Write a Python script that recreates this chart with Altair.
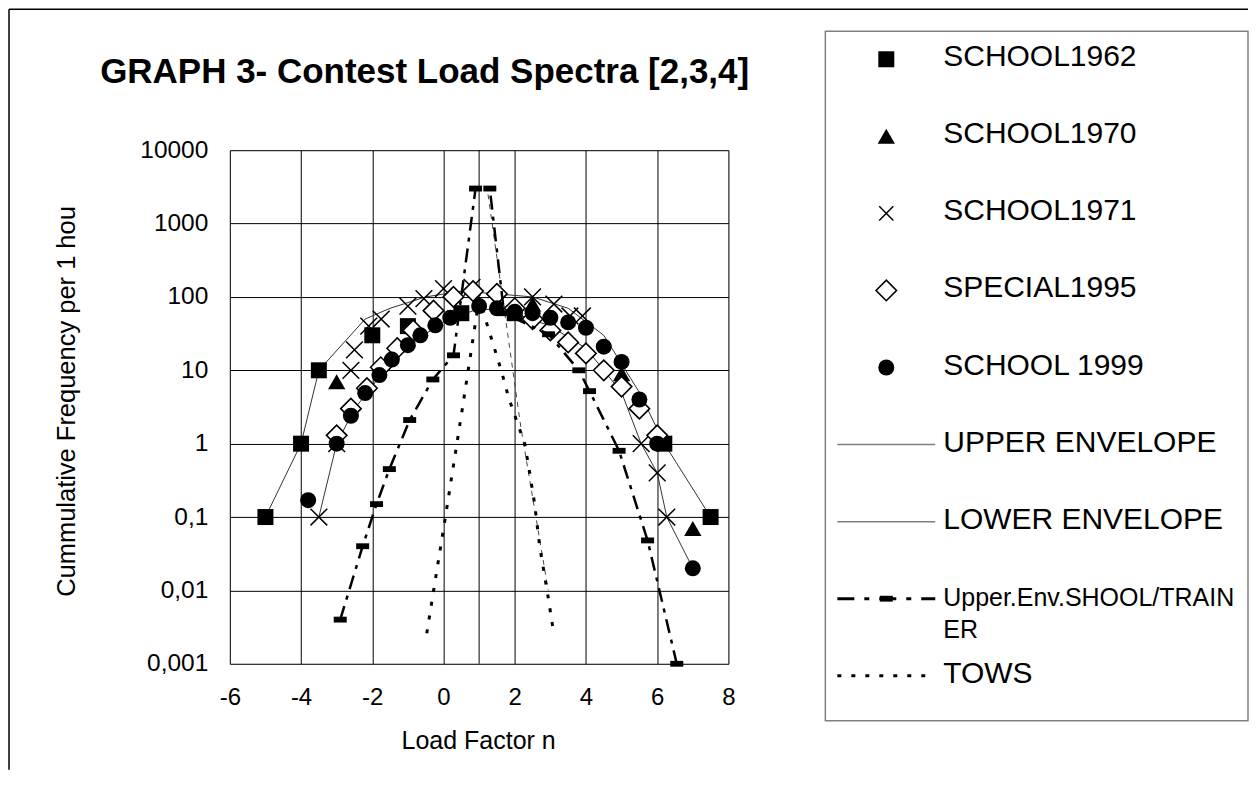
import altair as alt
import pandas as pd

FONT = "Liberation Sans"

TITLE = "GRAPH 3- Contest Load Spectra [2,3,4]"
X_TITLE = "Load Factor n"
Y_TITLE = "Cummulative Frequency per 1 hou"
X_TICKS = [-6, -4, -2, 0, 2, 4, 6, 8]
Y_TICKS = [0.001, 0.01, 0.1, 1, 10, 100, 1000, 10000]

# ---- series (load factor n, cumulative frequency per 1 hour) ----
s1962_n = [-5, -4, -3.5, -2, -1, 0.5, 2, 6.2, 7.5]
s1962_f = [0.1, 1, 10, 30, 40, 60, 60, 1, 0.1]

s1970_n = [-3, 2.5, 5, 7]
s1970_f = [7, 80, 9, 0.07]

s1971_n = [-3.5, -3, -2.6, -2.5, -2.1, -1.75, -1, -0.55, 0, 0.8, 2.5, 3.1, 3.55, 3.9, 5.55, 6, 6.27]
s1971_f = [0.1, 1, 10, 19, 40, 50, 75, 95, 130, 135, 100, 80, 55, 55, 1, 0.4, 0.1]

s1995_n = [-3, -2.6, -2.15, -1.76, -1.3, -0.85, -0.28, 0.28, 0.83, 1.5, 2, 2.5, 3, 3.5, 4, 4.5, 5, 5.5, 6]
s1995_f = [1.3, 3, 5.7, 11, 20, 35, 65, 100, 120, 110, 70, 50, 35, 24, 17, 10, 6, 3, 1.3]

s1999_n = [-3.8, -3, -2.6, -2.2, -1.8, -1.45, -1.0, -0.65, -0.23, 0.19, 1.0, 1.5, 2, 2.5, 3, 3.5, 4, 4.5, 5, 5.5, 6, 7]
s1999_f = [0.17, 1, 2.4, 4.9, 8.6, 14, 22, 30, 41, 52, 75, 70, 63, 60, 52, 45, 38, 21, 13, 4, 1, 0.02]

upper_n = [-5, -4, -3.5, -2.2, -1.5, -0.5, 0.5, 1.5, 2.5, 3.5, 4.5, 5.5, 6.2, 7.5]
upper_f = [0.1, 1, 10, 50, 70, 100, 120, 110, 100, 70, 30, 5, 1, 0.1]

lower_n = [-3.5, -3, -2.5, -2, -1.5, -1, 0, 1, 2, 3, 4, 5, 5.55, 6, 6.27, 7]
lower_f = [0.1, 1, 3, 6, 14, 22, 45, 70, 60, 40, 20, 5, 1, 0.4, 0.1, 0.02]

trainer_n = [-2.9, -2.27, -1.88, -1.52, -0.95, -0.3, 0.28, 0.9, 1.3, 1.7, 2.95, 3.8, 4.1, 4.93, 5.73, 6.55]
trainer_f = [0.004, 0.04, 0.15, 0.45, 2.1, 7.5, 16, 3000, 3000, 60, 31, 10, 5.2, 0.8, 0.048, 0.001]

# thin dashed descent drawn from the peak (unlabelled in the legend)
thin_n = [1.25, 2.17, 2.94]
thin_f = [2500, 1.7, 0.01]

tows_n = [-0.47, 0.03, 0.52, 1.0, 1.62, 1.83, 2.28, 2.42, 2.56, 2.7, 2.94, 3.08]
tows_f = [0.0026, 0.085, 2.8, 95, 10, 4.2, 1, 0.4, 0.15, 0.04, 0.008, 0.0029]

LEGEND_LABELS = ["SCHOOL1962", "SCHOOL1970", "SCHOOL1971", "SPECIAL1995", "SCHOOL 1999",
                 "UPPER ENVELOPE", "LOWER ENVELOPE", "Upper.Env.SHOOL/TRAIN\nER", "TOWS"]

X_SHAPE = "M-1,-1L1,1M-1,1L1,-1"
BAR_SHAPE = "M-1,-0.45L1,-0.45L1,0.45L-1,0.45Z"


def df(ns, fs):
    return pd.DataFrame({"n": ns, "f": fs, "i": list(range(len(ns)))})


xscale = alt.Scale(domain=[-6, 8], nice=False, zero=False)
yscale = alt.Scale(type="log", domain=[0.001, 10000], nice=False)

x_axis = alt.Axis(values=X_TICKS, grid=True, gridColor="black", gridWidth=1, gridOpacity=1,
                  ticks=False, tickSize=0, domain=False, labelFont=FONT, labelFontSize=24,
                  labelColor="black", labelPadding=22, labelFlush=False, labelOverlap=False,
                  labelExpr="'' + datum.value",
                  title=X_TITLE, titleFont=FONT, titleFontSize=25, titleFontWeight="normal",
                  titleColor="black", titleX=248.5, titleY=85, titleAlign="center",
                  titleBaseline="alphabetic")
y_axis = alt.Axis(values=Y_TICKS, grid=True, gridColor="black", gridWidth=1, gridOpacity=1,
                  ticks=False, tickSize=0, domain=False, labelFont=FONT, labelFontSize=24.5,
                  labelColor="black", labelPadding=22, labelFlush=False, labelOverlap=False,
                  labelExpr="replace('' + datum.value, '.', ',')",
                  title=Y_TITLE, titleFont=FONT, titleFontSize=25.5, titleFontWeight="normal",
                  titleColor="black", titleAngle=270, titleX=-163, titleY=251,
                  titleAlign="center", titleBaseline="middle")


def xy(chart):
    return chart.encode(
        x=alt.X("n:Q", scale=xscale, axis=x_axis),
        y=alt.Y("f:Q", scale=yscale, axis=y_axis),
        order="i:Q",
    )


axis_line = alt.Chart(pd.DataFrame({"n": [1]})).mark_rule(color="black", strokeWidth=1).encode(
    x=alt.X("n:Q", scale=xscale, axis=x_axis))

upper = xy(alt.Chart(df(upper_n, upper_f)).mark_line(color="#333333", strokeWidth=1))
lower = xy(alt.Chart(df(lower_n, lower_f)).mark_line(color="#333333", strokeWidth=1))

p1962 = xy(alt.Chart(df(s1962_n, s1962_f)).mark_point(shape="square", filled=True, color="black", size=256, opacity=1))
p1970 = xy(alt.Chart(df(s1970_n, s1970_f)).mark_point(shape="triangle-up", filled=True, color="black", size=300, opacity=1))
p1971 = xy(alt.Chart(df(s1971_n, s1971_f)).mark_point(shape=X_SHAPE, filled=False, color="black", strokeWidth=1.5, size=280, opacity=1))
p1995 = xy(alt.Chart(df(s1995_n, s1995_f)).mark_point(shape="diamond", filled=True, fill="white", stroke="black", strokeWidth=1.6, size=420, opacity=1))
p1999 = xy(alt.Chart(df(s1999_n, s1999_f)).mark_point(shape="circle", filled=True, color="black", size=256, opacity=1))

thin = xy(alt.Chart(df(thin_n, thin_f)).mark_line(color="#444444", strokeWidth=1, strokeDash=[5, 5]))
trainer_line = xy(alt.Chart(df(trainer_n, trainer_f)).mark_line(color="black", strokeWidth=2.5, strokeDash=[14, 7, 4, 7]))
trainer_pts = xy(alt.Chart(df(trainer_n, trainer_f)).mark_point(shape=BAR_SHAPE, filled=True, color="black", size=169, opacity=1))
tows = xy(alt.Chart(df(tows_n, tows_f)).mark_line(color="black", strokeWidth=3, strokeDash=[4, 10]))

main = alt.layer(upper, lower, axis_line, p1962, p1970, p1971, p1995, p1999,
                 thin, trainer_line, trainer_pts, tows)

# ---- legend, outer frame and title ----
one = pd.DataFrame({"k": [0]})
leg = pd.DataFrame({"row": list(range(len(LEGEND_LABELS))), "label": LEGEND_LABELS})
ly = alt.Y("row:Q", scale=alt.Scale(domain=[0, 8], range=[-91, 526]), axis=None)

frame_top = alt.Chart(one).mark_rule(color="black", strokeWidth=1.5).encode(
    x=alt.value(-221), x2=alt.value(1019), y=alt.value(-141))
frame_left = alt.Chart(one).mark_rule(color="black", strokeWidth=1.5).encode(
    x=alt.value(-221), y=alt.value(-141), y2=alt.value(620))
legend_box = alt.Chart(one).mark_rect(fillOpacity=0, stroke="#808080", strokeWidth=1.5).encode(
    x=alt.value(596), x2=alt.value(1019), y=alt.value(-119), y2=alt.value(571))
title = alt.Chart(pd.DataFrame({"t": [TITLE]})).mark_text(
    font=FONT, fontSize=35, fontWeight="bold", align="center", baseline="alphabetic", color="black"
).encode(text="t:N", x=alt.value(195), y=alt.value(-67))


def leg_sym(row, **kw):
    return alt.Chart(leg).transform_filter(alt.datum.row == row).mark_point(opacity=1, **kw).encode(
        x=alt.value(657), y=ly)


def leg_line(row, **kw):
    return alt.Chart(leg).transform_filter(alt.datum.row == row).mark_rule(**kw).encode(
        x=alt.value(608), x2=alt.value(706), y=ly)


legend_layers = [
    leg_sym(0, shape="square", filled=True, color="black", size=256),
    leg_sym(1, shape="triangle-up", filled=True, color="black", size=300),
    leg_sym(2, shape=X_SHAPE, filled=False, color="black", strokeWidth=1.5, size=200),
    leg_sym(3, shape="diamond", filled=True, fill="white", stroke="black", strokeWidth=1.6, size=420),
    leg_sym(4, shape="circle", filled=True, color="black", size=256),
    leg_line(5, color="#808080", strokeWidth=1.5),
    leg_line(6, color="#808080", strokeWidth=1.5),
    leg_line(7, color="black", strokeWidth=3, strokeDash=[17, 10, 5, 10]),
    leg_sym(7, shape=BAR_SHAPE, filled=True, color="black", size=169),
    leg_line(8, color="black", strokeWidth=3, strokeDash=[4, 10]),
    alt.Chart(leg).transform_filter(alt.datum.row != 7).mark_text(
        font=FONT, fontSize=30, align="left", baseline="alphabetic", dy=7, color="black"
    ).encode(x=alt.value(714), y=ly, text="label:N"),
    alt.Chart(leg).transform_filter(alt.datum.row == 7).mark_text(
        font=FONT, fontSize=25, align="left", baseline="alphabetic", dy=7, lineBreak="\n",
        lineHeight=32, color="black"
    ).encode(x=alt.value(714), y=ly, text="label:N"),
]

deco = alt.layer(frame_top, frame_left, legend_box, title, *legend_layers)

chart = alt.layer(main, deco).resolve_scale(y="independent").resolve_axis(
    y="independent", x="independent").properties(
    width=499, height=514, padding={"left": 0, "top": 0, "right": 0, "bottom": 0}
).configure_view(stroke="#808080", strokeWidth=1.5).configure(background="white")

chart.save("out.html", embed_options={"renderer": "svg", "actions": False})
